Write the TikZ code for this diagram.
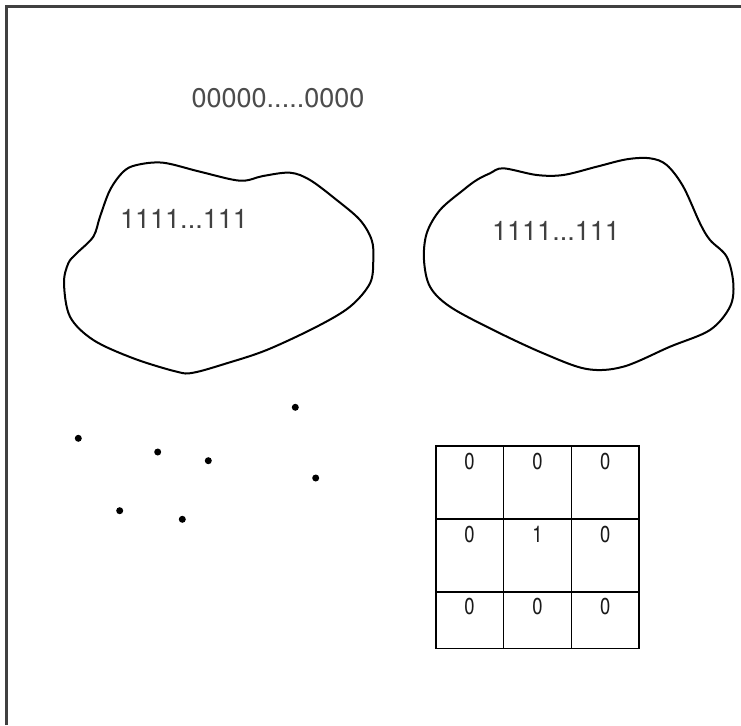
\documentclass[tikz,border=0pt]{standalone}
\usepackage{fontspec}
\setmainfont{TeX Gyre Heros}
\begin{document}
\begin{tikzpicture}[x=1pt,y=-1pt,
  frameline/.style={draw=black!75,line width=2.2pt},
  blob/.style={draw=black,line width=2pt,smooth cycle,tension=0.55},
  bits/.style={text=black!70,font=\fontsize{27}{30}\selectfont,inner sep=0pt},
  celldigit/.style={text=black!90,font=\fontsize{23}{26}\selectfont,inner sep=0pt,xscale=0.8},
  dotmark/.style={circle,fill=black,inner sep=0pt,minimum size=7pt},
  gridline/.style={draw=black,line width=1.7pt}]
\useasboundingbox (0,0) rectangle (741,725);
% frame (left and top edges)
\draw[frameline] (6.5,725) -- (6.5,6.5) -- (741,6.5);
% top label
\node[bits] (zeros) at (278,98) {00000.....0000};
% left blob
\draw[blob] plot coordinates {(136.7,165) (163,162.7) (200,171.7) (240,180.7) (263,176) (290,172.7) (310,180) (336.7,200) (360,220) (371.7,240) (373.3,260) (370,283.3) (350,306.7) (316.7,326.7) (266.7,350) (226.7,363.3) (193.3,372.7) (176.7,371.7) (133.3,358.3) (93.3,340) (70,316.7) (64,283.3) (68.3,263.3) (76.7,253.3) (93.3,236.7) (100,216.7) (110,190) (123.3,171.7)};
\node[bits,text=black!75] (onesA) at (184,218.5) {1111...111};
% right blob
\draw[blob] plot coordinates {(490,173.3) (503.3,168.3) (536.7,175) (563.3,175) (596.7,166.7) (626.7,159.3) (650,158.3) (666.7,165) (683.3,186.7) (700,223.3) (710,240) (726.7,256.7) (733.3,283.3) (730,306.7) (710,330) (670,346.7) (623.3,366.7) (586.7,369) (543.3,353.3) (493.3,330) (450,306.7) (430,286.7) (424,260) (426.7,233.3) (440,210) (463.3,190) (476.7,180)};
\node[bits,text=black!75] (onesB) at (556,230.5) {1111...111};
% scattered points
\node[dotmark] (p1) at (78.3,438.3) {};
\node[dotmark] (p2) at (157.7,452) {};
\node[dotmark] (p3) at (208.3,460.7) {};
\node[dotmark] (p4) at (295.3,407.3) {};
\node[dotmark] (p5) at (315.7,478) {};
\node[dotmark] (p6) at (119.7,510.7) {};
\node[dotmark] (p7) at (182.3,519.3) {};
% grid
\draw[gridline] (435.7,446) rectangle (639,648.5);
\draw[gridline] (503.5,446) -- (503.5,648.5);
\draw[gridline] (571.5,446) -- (571.5,648.5);
\draw[gridline] (435.7,519.3) -- (639,519.3);
\draw[gridline] (435.7,592.3) -- (639,592.3);
\node[celldigit] (c11) at (469.6,461.5) {0};
\node[celldigit] (c12) at (537.5,461.5) {0};
\node[celldigit] (c13) at (605.3,461.5) {0};
\node[celldigit] (c21) at (469.6,534.5) {0};
\node[celldigit] (c22) at (537.5,534.5) {1};
\node[celldigit] (c23) at (605.3,534.5) {0};
\node[celldigit] (c31) at (469.6,606.5) {0};
\node[celldigit] (c32) at (537.5,606.5) {0};
\node[celldigit] (c33) at (605.3,606.5) {0};
\end{tikzpicture}
\end{document}
